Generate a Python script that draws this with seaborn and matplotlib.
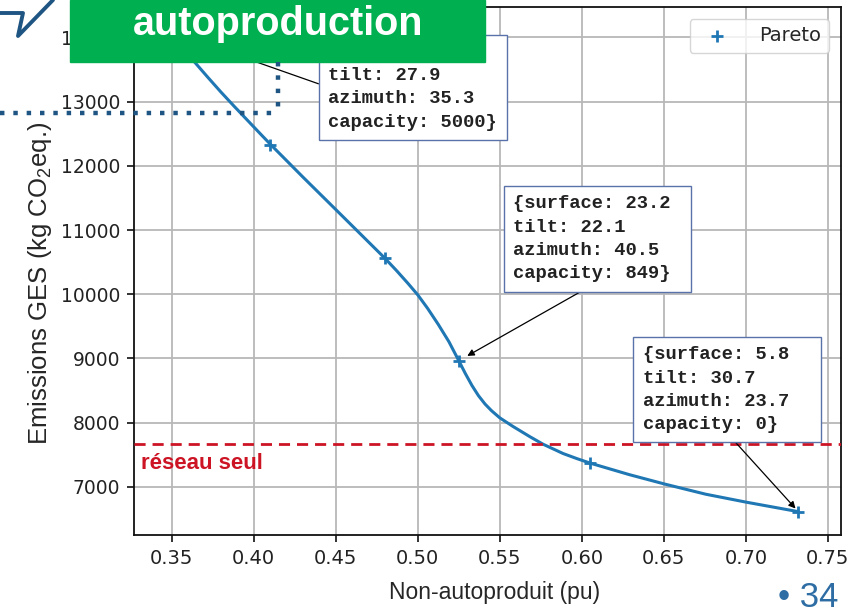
import matplotlib
matplotlib.use("Agg")
import matplotlib.pyplot as plt
import seaborn as sns
from matplotlib.lines import Line2D
from matplotlib.patches import Rectangle

# Points de Pareto
pareto_x = [0.348, 0.410, 0.480, 0.525, 0.605, 0.732]
pareto_y = [14100, 12330, 10560, 8965, 7368, 6614]

# Courbe lissée (relevée point par point sur la figure)
courbe_x = [0.348, 0.356, 0.364, 0.372, 0.380, 0.388, 0.396, 0.404, 0.410, 0.430,
            0.450, 0.465, 0.480, 0.487, 0.494, 0.500, 0.506, 0.5125, 0.519, 0.525,
            0.529, 0.533, 0.537, 0.541, 0.545, 0.550, 0.5581, 0.5683, 0.5764, 0.5885,
            0.597, 0.6053, 0.6290, 0.6503, 0.6756, 0.7005, 0.7319]
courbe_y = [14100, 13855, 13615, 13380, 13150, 12930, 12715, 12500, 12340, 11825,
            11320, 10940, 10560, 10370, 10170, 9990, 9780, 9530, 9260, 8965,
            8765, 8580, 8420, 8290, 8185, 8075, 7940, 7782, 7664, 7520,
            7440, 7368, 7190, 7045, 6885, 6760, 6614]

# Émissions du réseau seul
reseau_seul = 7664

# Textes des annotations
annot_textes = [
    "{surface: 40.0\ntilt: 27.9\nazimuth: 35.3\ncapacity: 5000}",
    "{surface: 23.2 \ntilt: 22.1\nazimuth: 40.5\ncapacity: 849}",
    "{surface: 5.8\ntilt: 30.7\nazimuth: 23.7  \ncapacity: 0}",
]
annot_points = [0, 3, 5]
xticks = [0.35, 0.40, 0.45, 0.50, 0.55, 0.60, 0.65, 0.70, 0.75]
yticks = [7000, 8000, 9000, 10000, 11000, 12000, 13000, 14000]

BLEU = "#1f77b4"
ROUGE = "#cc1425"
VERT = "#00b050"
MARINE = "#1f5582"
BORD = "#5a72aa"

sns.set_theme(style="ticks", rc={"axes.grid": True, "grid.color": "#b8b8b8",
                                 "grid.linewidth": 1.3, "axes.edgecolor": "#111111",
                                 "axes.linewidth": 1.3})
plt.rcParams["font.family"] = ["DejaVu Sans"]
plt.rcParams["mathtext.fontset"] = "custom"
plt.rcParams["mathtext.rm"] = "Liberation Sans"
plt.rcParams["mathtext.default"] = "regular"

W, H = 854, 613
def fx(px):
    return px / W
def fy(py):
    return 1 - py / H

fig = plt.figure(figsize=(8.54, 6.13), dpi=100)
ax = fig.add_axes([fx(134), fy(535), (841 - 134) / W, (535 - 7) / H])

sns.lineplot(x=courbe_x, y=courbe_y, sort=False, color=BLEU, lw=2.2, ax=ax, zorder=3)
sns.scatterplot(x=pareto_x, y=pareto_y, marker="+", s=70, linewidth=2, color=BLEU,
                label="Pareto", ax=ax, zorder=4)

ax.axhline(reseau_seul, color=ROUGE, lw=2, ls=(0, (4, 2.5)), zorder=5)
ax.text(0.3313, 7279, "réseau seul", color=ROUGE, fontsize=16, fontweight="bold",
        family="Liberation Sans", va="baseline")

ax.set_xlim(0.327, 0.758)
ax.set_ylim(6250, 14475)
ax.set_xticks(xticks)
ax.set_yticks(yticks)
ax.tick_params(axis="both", length=5, width=1.2, color="#111111", labelcolor="#222222",
               pad=5)
ax.tick_params(axis="x", labelsize=14)
ax.tick_params(axis="y", labelsize=13.5)

ax.set_xlabel("Non-autoproduit (pu)", fontsize=16.5, family="Liberation Sans", va="top")
ax.xaxis.set_label_coords(0.51, -0.088)
ax.set_ylabel("Emissions GES (kg CO$_2$eq.)", fontsize=18.5, family="Liberation Sans")
ax.yaxis.set_label_coords(-0.113, 0.477)

# Boîtes d'annotation
positions = [(0.4455, 13900), (0.5581, 11540), (0.6371, 9190)]
relpos = [(0, 0.5), (0.5, 0), (0.5, 0)]
retraits = [2, 7, 3]
for texte, i, pos, rp, rt in zip(annot_textes, annot_points, positions, relpos, retraits):
    ax.annotate(texte, xy=(pareto_x[i], pareto_y[i]), xytext=pos, textcoords="data",
                ha="left", va="top", fontsize=13.5, family="Liberation Mono",
                fontweight="bold", color="#222222", linespacing=1.48, zorder=6,
                bbox=dict(boxstyle="square,pad=0.5", fc="white", ec=BORD, lw=1),
                arrowprops=dict(arrowstyle="-|>", color="black", lw=0.9,
                                mutation_scale=10, relpos=rp, shrinkA=0, shrinkB=rt))

ax.legend(loc="upper right", fontsize=14, frameon=True, handletextpad=1.2,
          borderaxespad=0.6)

# Éléments de la diapositive
fig.add_artist(Rectangle((fx(70), fy(62)), (485 - 70) / W, 62 / H, transform=fig.transFigure,
                         color=VERT, zorder=10))
fig.text(fx(278), fy(35), "autoproduction", color="white", fontsize=28.5, fontweight="bold",
         family="Liberation Sans", ha="center", va="baseline", zorder=11)
fig.add_artist(Line2D([fx(0), fx(278)], [fy(113), fy(113)], transform=fig.transFigure,
                      color=MARINE, lw=3.2, ls=(0, (1, 2)), zorder=10))
fig.add_artist(Line2D([fx(278), fx(278)], [fy(62), fy(113)], transform=fig.transFigure,
                      color=MARINE, lw=3.2, ls=(0, (1, 2)), zorder=10))
fig.add_artist(Line2D([fx(0), fx(23), fx(18), fx(53)], [fy(13), fy(13), fy(36), fy(0)],
                      transform=fig.transFigure, color=MARINE, lw=2.8, zorder=10))
fig.text(fx(838), fy(607), "• 34", color="#2e6da4", fontsize=25, family="Liberation Sans",
         ha="right", va="baseline")

fig.savefig("out.png", dpi=100)
